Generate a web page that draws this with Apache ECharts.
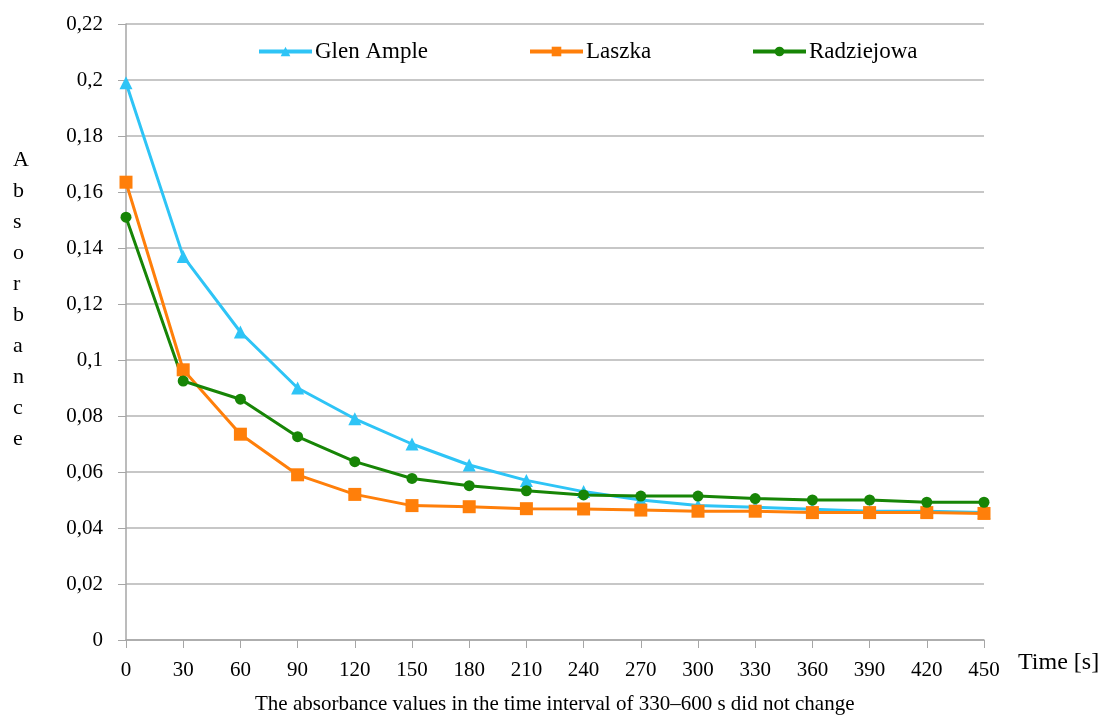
<!DOCTYPE html>
<html>
<head>
<meta charset="utf-8">
<script src="https://cdn.jsdelivr.net/npm/echarts@6/dist/echarts.min.js"></script>
<style>html,body{margin:0;padding:0;background:#fff;}#c{width:1101px;height:715px;}</style>
</head>
<body>
<div id="c"></div>
<script>
const categories = ['0','30','60','90','120','150','180','210','240','270','300','330','360','390','420','450'];
const glenAmple = [0.199,0.137,0.110,0.090,0.079,0.070,0.0625,0.057,0.053,0.050,0.048,0.0474,0.0467,0.046,0.046,0.0455];
const laszka = [0.1635,0.0965,0.0735,0.059,0.052,0.048,0.0476,0.0469,0.0468,0.0464,0.046,0.046,0.0455,0.0455,0.0455,0.0452];
const radziejowa = [0.151,0.0925,0.086,0.0726,0.0637,0.0577,0.0551,0.0533,0.0518,0.0514,0.0514,0.0505,0.050,0.050,0.0492,0.0492];
const yTicks = [0,0.02,0.04,0.06,0.08,0.1,0.12,0.14,0.16,0.18,0.2,0.22];
const seriesNames = ['Glen Ample','Laszka','Radziejowa'];

const FONT = 'Liberation Serif';
const chart = echarts.init(document.getElementById('c'));
const mk = (name, data, color, symbol, size) => ({
  name, type: 'line', data, symbol, symbolSize: size,
  itemStyle: {color}, lineStyle: {color, width: 3}, z: 3
});
const legendLefts = [257, 528, 751];
chart.setOption({
  animation: false,
  textStyle: {fontFamily: FONT, color: '#000'},
  grid: {left: 126, right: 117, top: 24, bottom: 75},
  legend: seriesNames.map((n, i) => ({
    left: legendLefts[i], top: 40, padding: 0, itemWidth: 53, itemHeight: 12,
    lineStyle: {width: 4},
    textStyle: {fontFamily: FONT, fontSize: 23, color: '#000', padding: [0,0,0,-2]},
    data: [n]
  })),
  xAxis: {
    type: 'category', data: categories, boundaryGap: false,
    axisLine: {lineStyle: {color: '#a6a6a6', width: 1.5}},
    axisTick: {show: true, length: 8, lineStyle: {color: '#a6a6a6'}, alignWithLabel: true},
    axisLabel: {fontFamily: FONT, fontSize: 21, color: '#000', margin: 20, interval: 0},
    splitLine: {show: false}
  },
  yAxis: {
    type: 'value', min: 0, max: 0.22, interval: 0.02,
    axisLine: {show: true, lineStyle: {color: '#a6a6a6', width: 1.5}},
    axisTick: {show: true, length: 8, lineStyle: {color: '#a6a6a6'}},
    axisLabel: {fontFamily: FONT, fontSize: 21, color: '#000', margin: 23,
      formatter: v => { const t = yTicks.find(x => Math.abs(x - v) < 1e-9); return String(+(t !== undefined ? t : v).toFixed(2)).replace('.', ','); }},
    splitLine: {lineStyle: {color: '#b4b4b4', width: 1.5}}
  },
  series: [
    mk('Glen Ample', glenAmple, '#2ec4f6', 'triangle', 13),
    mk('Laszka', laszka, '#ff7f0a', 'rect', 13),
    mk('Radziejowa', radziejowa, '#178506', 'circle', 11)
  ],
  graphic: [
    {type: 'text', left: 13, top: 145, style: {text: 'A\nb\ns\no\nr\nb\na\nn\nc\ne', font: '22px "Liberation Serif"', fill: '#000', lineHeight: 31, align: 'center'}},
    {type: 'text', left: 1018, top: 651, style: {text: 'Time [s]', font: '24px "Liberation Serif"', fill: '#000'}},
    {type: 'text', left: 255, top: 694, style: {text: 'The absorbance values in the time interval of 330–600 s did not change', font: '21px "Liberation Serif"', fill: '#000'}}
  ]
});
</script>
</body>
</html>
